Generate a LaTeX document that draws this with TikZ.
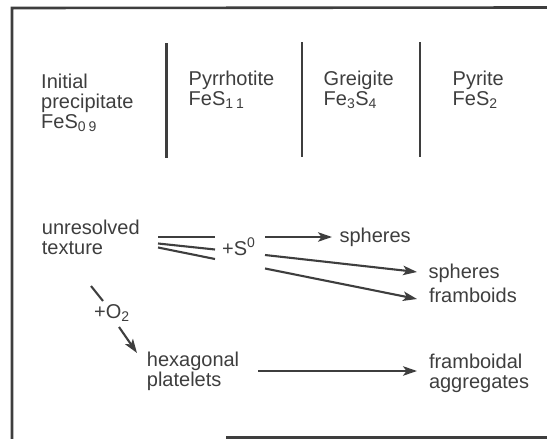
\documentclass[tikz,border=0pt]{standalone}
\usepackage{fontspec}
\setmainfont{Liberation Sans}
\usetikzlibrary{arrows.meta}
\definecolor{ink}{RGB}{62,62,62}
\newcommand{\lstack}[1]{\begin{tabular}[t]{@{}l@{}}#1\end{tabular}}
\begin{document}
\begin{tikzpicture}[x=1pt,y=-1pt,
  lbl/.style={anchor=base west, inner sep=0pt, text=ink, font=\fontsize{20}{20.3}\selectfont},
  frameline/.style={draw=ink, line width=2.6pt},
  divider/.style={draw=ink, line width=2.3pt},
  conn/.style={draw=ink, line width=2.1pt},
  arr/.style={conn, -{Stealth[length=14pt,width=9.5pt,inset=3.5pt]}}]
\useasboundingbox (0,0) rectangle (547,439);
% frame
\draw[frameline] (12,439) -- (12,8) -- (547,7.5);
\draw[frameline, line width=2.2pt] (226,437.5) -- (547,437.5);
% dividers
\draw[divider] (166.5,43) -- (166.5,158);
\draw[divider] (302,42) -- (302,157);
\draw[divider] (420,42) -- (420,157);
% header labels
\node[lbl] (init) at (41,88) {\lstack{Initial\\precipitate\\FeS\textsubscript{0\kern3pt 9}}};
\node[lbl] (pyrr) at (188.5,85) {\lstack{Pyrrhotite\\FeS\textsubscript{1\kern3pt 1}}};
\node[lbl] (greig) at (323.5,85) {\lstack{Greigite\\Fe\textsubscript{3}S\textsubscript{4}}};
\node[lbl] (pyr) at (452.5,85) {\lstack{Pyrite\\FeS\textsubscript{2}}};
% lower labels
\node[lbl] (ut) at (41.7,234) {\lstack{unresolved\\texture}};
\node[lbl] (s0) at (222,255) {+S\textsuperscript{0}};
\node[lbl] (sph1) at (339.4,242) {spheres};
\node[lbl] (sph2) at (428.4,278) {spheres};
\node[lbl] (fram) at (428.8,302) {framboids};
\node[lbl] (o2) at (94,318) {+O\textsubscript{2}};
\node[lbl] (hex) at (146.7,366) {\lstack{hexagonal\\platelets}};
\node[lbl] (agg) at (428.8,368) {\lstack{framboidal\\aggregates}};
% connector end points
\coordinate (utA) at (158,237);   \coordinate (s0A) at (215,237);
\coordinate (utB) at (158,243.5); \coordinate (s0B) at (215,249.5);
\coordinate (utC) at (158,247.5); \coordinate (s0C) at (215,259);
\coordinate (s0D) at (265,237);   \coordinate (sph1W) at (332,237);
\coordinate (s0E) at (265,255);   \coordinate (sph2W) at (417,272);
\coordinate (s0F) at (265,268.5); \coordinate (framW) at (417,299);
\coordinate (utD) at (91,286);    \coordinate (o2N) at (103,301);
\coordinate (o2S) at (119,327);   \coordinate (hexN) at (137,353);
\coordinate (hexE) at (258,371);  \coordinate (aggW) at (417,371);
% connectors
\draw[conn] (utA) -- (s0A);
\draw[conn] (utB) -- (s0B);
\draw[conn] (utC) -- (s0C);
\draw[arr] (s0D) -- (sph1W);
\draw[arr] (s0E) -- (sph2W);
\draw[arr] (s0F) -- (framW);
\draw[conn] (utD) -- (o2N);
\draw[arr] (o2S) -- (hexN);
\draw[arr] (hexE) -- (aggW);
\end{tikzpicture}
\end{document}
